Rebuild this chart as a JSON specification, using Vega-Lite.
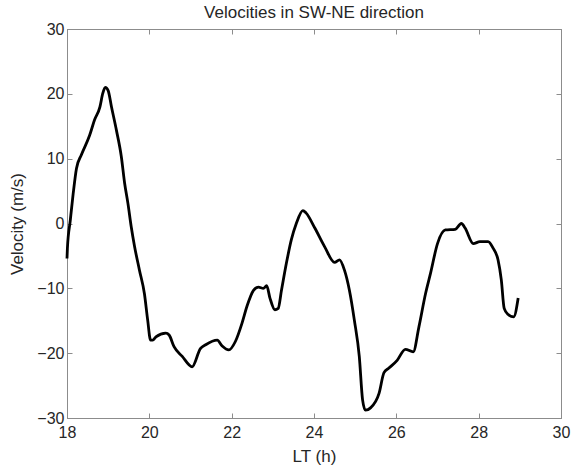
{
  "$schema": "https://vega.github.io/schema/vega-lite/v6.json",
  "width": 494,
  "height": 389,
  "autosize": "none",
  "padding": {"left": 67, "top": 29, "right": 11, "bottom": 50},
  "background": "white",
  "config": {
    "font": "Liberation Sans",
    "view": {"stroke": "#8c8c8c", "strokeWidth": 1},
    "axis": {
      "domainColor": "#8c8c8c",
      "tickColor": "#8c8c8c",
      "grid": false,
      "labelFont": "Liberation Sans",
      "titleFont": "Liberation Sans",
      "labelFontSize": 16,
      "titleFontSize": 17,
      "labelColor": "#262626",
      "titleColor": "#262626",
      "titleFontWeight": "normal",
      "labelFlush": false,
      "labelOverlap": false
    }
  },
  "title": {
    "text": "Velocities in SW-NE direction",
    "fontSize": 17,
    "fontWeight": "normal",
    "color": "#262626",
    "font": "Liberation Sans",
    "offset": -1
  },
  "data": {
    "values": [
      {"t": 18.0, "v": -5.4},
      {"t": 18.01, "v": -3.8},
      {"t": 18.08, "v": 0.5},
      {"t": 18.15, "v": 4.6},
      {"t": 18.23, "v": 8.5},
      {"t": 18.35, "v": 10.6},
      {"t": 18.55, "v": 13.6},
      {"t": 18.67, "v": 16.0},
      {"t": 18.8, "v": 18.0},
      {"t": 18.87, "v": 20.1},
      {"t": 18.93, "v": 21.0},
      {"t": 19.0, "v": 20.5},
      {"t": 19.08, "v": 18.0},
      {"t": 19.2, "v": 14.4},
      {"t": 19.32, "v": 10.3},
      {"t": 19.4, "v": 6.2},
      {"t": 19.48, "v": 3.1},
      {"t": 19.56, "v": -0.5},
      {"t": 19.64, "v": -3.5},
      {"t": 19.76, "v": -7.2},
      {"t": 19.88, "v": -10.8},
      {"t": 19.96, "v": -14.9},
      {"t": 20.03, "v": -18.0},
      {"t": 20.08, "v": -18.0},
      {"t": 20.16, "v": -17.5},
      {"t": 20.4, "v": -16.9},
      {"t": 20.48, "v": -17.2},
      {"t": 20.6, "v": -19.0},
      {"t": 20.8, "v": -20.5},
      {"t": 21.04, "v": -22.1},
      {"t": 21.24, "v": -19.3},
      {"t": 21.37, "v": -18.7},
      {"t": 21.65, "v": -18.0},
      {"t": 21.77, "v": -18.9},
      {"t": 21.93, "v": -19.5},
      {"t": 22.09, "v": -18.2},
      {"t": 22.25, "v": -15.4},
      {"t": 22.37, "v": -12.8},
      {"t": 22.53, "v": -10.3},
      {"t": 22.65, "v": -9.8},
      {"t": 22.77, "v": -10.0},
      {"t": 22.85, "v": -9.6},
      {"t": 22.93, "v": -11.5},
      {"t": 23.05, "v": -13.3},
      {"t": 23.13, "v": -13.1},
      {"t": 23.21, "v": -10.3},
      {"t": 23.33, "v": -6.1},
      {"t": 23.45, "v": -2.5},
      {"t": 23.57, "v": 0.0},
      {"t": 23.73, "v": 2.0},
      {"t": 23.81, "v": 1.6},
      {"t": 24.02, "v": -0.7},
      {"t": 24.26, "v": -3.6},
      {"t": 24.5, "v": -6.0},
      {"t": 24.62, "v": -5.6},
      {"t": 24.74, "v": -7.2},
      {"t": 24.86, "v": -10.3},
      {"t": 24.98, "v": -14.9},
      {"t": 25.1, "v": -20.5},
      {"t": 25.18, "v": -27.2},
      {"t": 25.25, "v": -28.8},
      {"t": 25.38, "v": -28.4},
      {"t": 25.58, "v": -26.2},
      {"t": 25.7, "v": -23.0},
      {"t": 25.82, "v": -22.3},
      {"t": 26.02, "v": -21.1},
      {"t": 26.22, "v": -19.4},
      {"t": 26.41, "v": -19.8},
      {"t": 26.55, "v": -15.9},
      {"t": 26.71, "v": -10.8},
      {"t": 26.83, "v": -7.7},
      {"t": 27.0, "v": -3.1},
      {"t": 27.19, "v": -1.0},
      {"t": 27.43, "v": -0.9},
      {"t": 27.58, "v": 0.0},
      {"t": 27.67, "v": -0.7},
      {"t": 27.87, "v": -3.1},
      {"t": 28.03, "v": -2.8},
      {"t": 28.23, "v": -2.8},
      {"t": 28.35, "v": -3.8},
      {"t": 28.47, "v": -5.6},
      {"t": 28.55, "v": -8.7},
      {"t": 28.62, "v": -13.1},
      {"t": 28.71, "v": -14.0},
      {"t": 28.85, "v": -14.4},
      {"t": 28.96, "v": -11.5}
    ]
  },
  "layer": [
    {
      "mark": {"type": "line", "color": "black", "strokeWidth": 2.8, "interpolate": "monotone"},
      "encoding": {
        "x": {
          "field": "t",
          "type": "quantitative",
          "scale": {"domain": [18, 30], "nice": false, "zero": false},
          "axis": {"values": [18, 20, 22, 24, 26, 28, 30], "tickSize": -5, "labelPadding": 11, "title": "LT (h)", "titlePadding": 8}
        },
        "y": {
          "field": "v",
          "type": "quantitative",
          "scale": {"domain": [-30, 30], "nice": false, "zero": false},
          "axis": {"values": [-30, -20, -10, 0, 10, 20, 30], "tickSize": -5, "labelPadding": 8, "title": "Velocity (m/s)", "titlePadding": 10}
        }
      }
    },
    {
      "mark": {"type": "line", "strokeOpacity": 0},
      "encoding": {
        "x": {
          "field": "t",
          "type": "quantitative",
          "scale": {"domain": [18, 30], "nice": false, "zero": false},
          "axis": {"orient": "top", "values": [18, 20, 22, 24, 26, 28, 30], "tickSize": -5, "labels": false, "title": null}
        },
        "y": {
          "field": "v",
          "type": "quantitative",
          "scale": {"domain": [-30, 30], "nice": false, "zero": false},
          "axis": {"orient": "right", "values": [-30, -20, -10, 0, 10, 20, 30], "tickSize": -5, "labels": false, "title": null}
        }
      }
    }
  ],
  "resolve": {"axis": {"x": "independent", "y": "independent"}}
}
